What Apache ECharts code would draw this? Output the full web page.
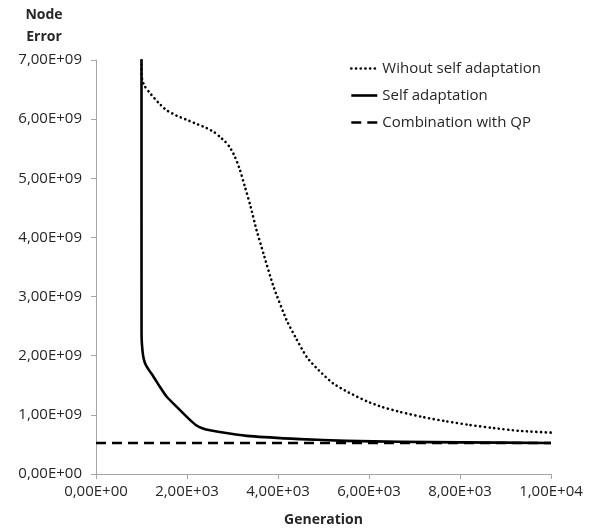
<!DOCTYPE html>
<html>
<head>
<meta charset="utf-8">
<script src="https://cdn.jsdelivr.net/npm/echarts@6/dist/echarts.min.js"></script>
<style>html,body{margin:0;padding:0;background:#fff}#c{width:592px;height:531px}</style>
</head>
<body>
<div id="c"></div>
<script>
// Data (values of Node Error in units of 1e9)
const seriesNames = ['Wihout self adaptation', 'Self adaptation', 'Combination with QP'];
const genWithout = [1000, 1001, 1004, 1060, 1187, 1370, 1550, 1770, 1990, 2210, 2430, 2600, 2725, 2840, 2945, 3050, 3165, 3275, 3385, 3530, 3680, 3900, 4190, 4400, 4630, 4900, 5215, 5550, 5950, 6300, 6680, 7200, 7700, 8200, 8700, 9300, 10000];
const valWithout = [7.0, 6.85, 6.72, 6.57, 6.44, 6.28, 6.15, 6.06, 5.99, 5.92, 5.85, 5.78, 5.70, 5.62, 5.52, 5.37, 5.14, 4.85, 4.56, 4.12, 3.73, 3.17, 2.60, 2.29, 1.98, 1.75, 1.53, 1.38, 1.23, 1.13, 1.05, 0.96, 0.89, 0.83, 0.78, 0.73, 0.70];
const genSelf = [1000, 1001, 1005, 1020, 1040, 1080, 1160, 1260, 1400, 1550, 1780, 1990, 2100, 2210, 2350, 2505, 2900, 3385, 4480, 5500, 6680, 8000, 10000];
const valSelf = [7.0, 2.40, 2.25, 2.10, 1.98, 1.87, 1.76, 1.65, 1.48, 1.31, 1.13, 0.97, 0.89, 0.82, 0.77, 0.74, 0.69, 0.64, 0.59, 0.56, 0.545, 0.535, 0.525];
const genQP = [0, 10000];
const valQP = [0.525, 0.525];
const xTickLabels = ['0,00E+00', '2,00E+03', '4,00E+03', '6,00E+03', '8,00E+03', '1,00E+04'];
const yTickLabels = ['0,00E+00', '1,00E+09', '2,00E+09', '3,00E+09', '4,00E+09', '5,00E+09', '6,00E+09', '7,00E+09'];

const SCALE = 1e9;
const pairs = (xs, ys) => xs.map((x, i) => [x, ys[i] * SCALE]);
const FONT = '"Open Sans", sans-serif';
const TXT = '#262626';
const dotted = {color: '#000', width: 2.6, type: [0.1, 4.6], cap: 'round'};
const solid = {color: '#000', width: 2.6, type: 'solid', join: 'round'};
const dashed = {color: '#000', width: 2.6, type: [10, 6]};

const chart = echarts.init(document.getElementById('c'), null, {renderer: 'canvas'});
chart.setOption({
  animation: false,
  backgroundColor: '#fff',
  textStyle: {fontFamily: FONT, color: TXT},
  grid: {left: 96, right: 41, top: 60, bottom: 57, containLabel: false, outerBoundsMode: 'none'},
  legend: {
    orient: 'vertical', left: 345, top: 56, itemWidth: 26, itemHeight: 14, itemGap: 12,
    itemStyle: {opacity: 0},
    textStyle: {fontFamily: FONT, fontSize: 15, color: TXT},
    data: [
      {name: seriesNames[0], lineStyle: dotted, itemStyle: {opacity: 0}},
      {name: seriesNames[1], lineStyle: solid, itemStyle: {opacity: 0}},
      {name: seriesNames[2], lineStyle: dashed, itemStyle: {opacity: 0}}
    ]
  },
  xAxis: {
    type: 'value', min: 0, max: 10000, interval: 2000,
    name: 'Generation', nameLocation: 'middle', nameGap: 39,
    nameTextStyle: {fontFamily: FONT, fontSize: 14, fontWeight: 'bold', color: TXT},
    axisLine: {lineStyle: {color: '#a6a6a6', width: 1}},
    axisTick: {show: true, length: 5, lineStyle: {color: '#a6a6a6'}},
    splitLine: {show: false},
    axisLabel: {fontFamily: FONT, fontSize: 15, color: TXT, margin: 10,
      formatter: (v, i) => xTickLabels[Math.round(v / 2000)]}
  },
  yAxis: {
    type: 'value', min: 0, max: 7e9, interval: 1e9,
    name: 'Node\nError', nameLocation: 'end', nameGap: 12,
    nameTextStyle: {fontFamily: FONT, fontSize: 14, fontWeight: 'bold', color: TXT, lineHeight: 22, align: 'center', padding: [0, 104, 0, 0]},
    axisLine: {show: true, lineStyle: {color: '#a6a6a6', width: 1}},
    axisTick: {show: true, length: 5, lineStyle: {color: '#a6a6a6'}},
    splitLine: {show: false},
    axisLabel: {fontFamily: FONT, fontSize: 15, color: TXT, margin: 14,
      formatter: (v) => yTickLabels[Math.round(v / 1e9)]}
  },
  series: [
    {name: seriesNames[0], type: 'line', symbol: 'none', smooth: 0.2, data: pairs(genWithout, valWithout), color: '#000', lineStyle: dotted},
    {name: seriesNames[1], type: 'line', symbol: 'none', smooth: 0.2, data: pairs(genSelf, valSelf), color: '#000', lineStyle: solid},
    {name: seriesNames[2], type: 'line', symbol: 'none', data: pairs(genQP, valQP), color: '#000', lineStyle: dashed}
  ]
});
</script>
</body>
</html>
